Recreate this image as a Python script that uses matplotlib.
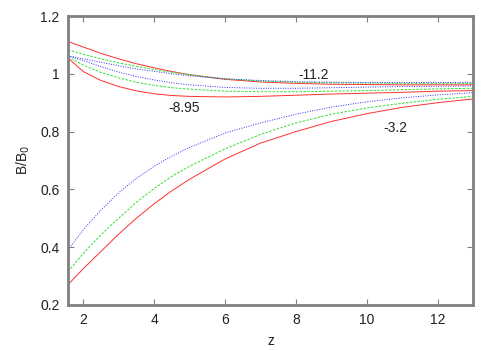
import matplotlib.pyplot as plt
from matplotlib.ticker import FuncFormatter

plt.rcParams["font.family"] = ["Liberation Sans", "DejaVu Sans"]

# Data
z = [1.57, 2, 2.5, 3, 3.5, 4, 4.5, 5, 6, 7, 8, 9, 10, 11, 12, 13]

# group -3.2 (rising)
red_32 = [0.27, 0.325, 0.385, 0.445, 0.50, 0.55, 0.595, 0.635, 0.705, 0.76, 0.80, 0.835, 0.862, 0.884, 0.90, 0.913]
green_32 = [0.315, 0.378, 0.443, 0.50, 0.555, 0.603, 0.645, 0.68, 0.74, 0.79, 0.83, 0.86, 0.882, 0.898, 0.912, 0.922]
blue_32 = [0.39, 0.46, 0.528, 0.588, 0.638, 0.68, 0.715, 0.745, 0.795, 0.83, 0.86, 0.885, 0.903, 0.917, 0.927, 0.935]

# group -8.95
red_895 = [1.055, 1.008, 0.977, 0.956, 0.941, 0.931, 0.925, 0.922, 0.92, 0.922, 0.926, 0.93, 0.933, 0.936, 0.94, 0.942]
green_895 = [1.06, 1.03, 1.005, 0.986, 0.971, 0.96, 0.952, 0.947, 0.94, 0.938, 0.938, 0.94, 0.942, 0.945, 0.948, 0.95]
blue_895 = [1.063, 1.046, 1.025, 1.006, 0.991, 0.979, 0.969, 0.962, 0.953, 0.95, 0.95, 0.952, 0.954, 0.956, 0.957, 0.958]

# group -11.2
red_112 = [1.112, 1.093, 1.071, 1.052, 1.035, 1.021, 1.008, 0.997, 0.981, 0.972, 0.967, 0.964, 0.963, 0.962, 0.962, 0.962]
green_112 = [1.083, 1.068, 1.052, 1.038, 1.026, 1.015, 1.005, 0.997, 0.983, 0.975, 0.971, 0.969, 0.968, 0.967, 0.967, 0.967]
blue_112 = [1.062, 1.052, 1.04, 1.028, 1.017, 1.009, 1.0, 0.993, 0.983, 0.977, 0.973, 0.971, 0.97, 0.97, 0.97, 0.97]

labels = ["-11.2", "-8.95", "-3.2"]
label_z = [8.5, 4.85, 10.82]
label_b = [0.996, 0.882, 0.812]

fig = plt.figure(figsize=(5, 3.5), dpi=100)
ax = fig.add_axes([0.136, 0.129, 0.81, 0.825])

for r, g, b in [(red_32, green_32, blue_32),
                (red_895, green_895, blue_895),
                (red_112, green_112, blue_112)]:
    ax.plot(z, r, color="#ff3030", lw=0.7, ls="-")
    ax.plot(z, g, color="#30e030", lw=0.7, ls=(0, (2.5, 1.5)))
    ax.plot(z, b, color="#3030ff", lw=0.7, ls=(0, (1, 1.5)))

for txt, xx, yy in zip(labels, label_z, label_b):
    ax.text(xx, yy, txt, fontsize=10, ha="center", va="center", color="#222222")

ax.set_xlim(1.57, 13)
ax.set_ylim(0.2, 1.2)
ax.set_xticks([2, 4, 6, 8, 10, 12])
ax.set_yticks([0.2, 0.4, 0.6, 0.8, 1.0, 1.2])
ax.yaxis.set_major_formatter(FuncFormatter(lambda v, p: f"{v:g}"))

for s in ax.spines.values():
    s.set_color("#808080")
    s.set_linewidth(2)
ax.tick_params(direction="in", length=4, width=0.8, color="#808080",
               top=True, right=True, labelsize=10, labelcolor="#222222", pad=6)

ax.set_xlabel("z", fontsize=10, color="#222222", labelpad=5)
ax.set_ylabel("B/B$_0$", fontsize=10, color="#222222", labelpad=6)

fig.savefig("out.png", dpi=100)
